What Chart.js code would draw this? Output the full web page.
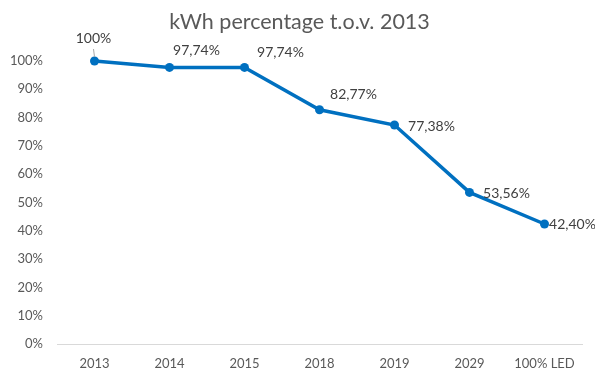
<!DOCTYPE html>
<html>
<head>
<meta charset="utf-8">
<script src="https://cdn.jsdelivr.net/npm/chart.js@4.4.4/dist/chart.umd.min.js"></script>
<style>
  html, body { margin: 0; padding: 0; background: #fff; }
  #wrap { width: 595px; height: 370px; }
</style>
</head>
<body>
<div id="wrap"><canvas id="chart"></canvas></div>
<script>
// ─── Data ────────────────────────────────────────────────────────────────────
const categories = ['2013', '2014', '2015', '2018', '2019', '2029', '100% LED'];
const kwhPercent = [100, 97.74, 97.74, 82.77, 77.38, 53.56, 42.40];
const yTicks     = [0, 10, 20, 30, 40, 50, 60, 70, 80, 90, 100];
const chartTitle = 'kWh percentage t.o.v. 2013';

// label offsets from each point, in px
const labelOffsets = [[-1, -23], [27, -17], [36, -15], [34, -15], [37, 1], [37, 1], [28, 0]];

const TEXT_GREY  = '#595959';
const LABEL_GREY = '#404040';
const LINE_BLUE  = '#0070C0';
const FONT       = "Lato, 'Open Sans', sans-serif";

Chart.defaults.font.family = FONT;
Chart.defaults.animation   = false;

const fmtPct = v => (Number.isInteger(v) ? String(v) : v.toFixed(2).replace('.', ',')) + '%';

// Title centred on the canvas (the built-in one centres on the padded box)
const centredTitle = {
  id: 'centredTitle',
  afterDraw(chart) {
    const ctx = chart.ctx;
    ctx.save();
    ctx.font = `21.5px ${FONT}`;
    ctx.fillStyle = TEXT_GREY;
    ctx.textAlign = 'center';
    ctx.textBaseline = 'middle';
    ctx.fillText(chartTitle, chart.width / 2 + 2, 22);
    ctx.restore();
  },
};

// Data labels drawn next to each point, with a leader line on the first one
const valueLabels = {
  id: 'valueLabels',
  afterDatasetsDraw(chart) {
    const ctx  = chart.ctx;
    const meta = chart.getDatasetMeta(0);
    const data = chart.data.datasets[0].data;
    ctx.save();
    ctx.font = `14px ${FONT}`;
    ctx.fillStyle = LABEL_GREY;
    ctx.textAlign = 'center';
    ctx.textBaseline = 'middle';
    meta.data.forEach((pt, i) => {
      const [dx, dy] = labelOffsets[i];
      ctx.fillText(fmtPct(data[i]), pt.x + dx, pt.y + dy);
    });
    // leader line for the first label
    const p0 = meta.data[0];
    ctx.beginPath();
    ctx.moveTo(p0.x - 1, p0.y - 12);
    ctx.lineTo(p0.x, p0.y - 4);
    ctx.strokeStyle = '#a6a6a6';
    ctx.lineWidth = 1;
    ctx.stroke();
    ctx.restore();
  },
};

new Chart(document.getElementById('chart'), {
  type: 'line',
  data: {
    labels: categories,
    datasets: [{
      label: 'kWh',
      data: kwhPercent,
      borderColor: LINE_BLUE,
      backgroundColor: LINE_BLUE,
      borderWidth: 3.5,
      pointRadius: 4.5,
      pointBorderWidth: 0,
      tension: 0,
      clip: false,
    }],
  },
  options: {
    responsive: true,
    maintainAspectRatio: false,
    layout: { padding: { left: 0, right: 13, top: 61, bottom: 0 } },
    scales: {
      x: {
        offset: true,
        grid: { display: false },
        border: { display: true, color: '#d9d9d9', width: 1 },
        ticks: { color: TEXT_GREY, font: { size: 13 }, padding: 4, maxRotation: 0, autoSkip: false },
        afterFit: s => { s.height = 26; },
      },
      y: {
        min: 0,
        max: 100,
        grid: { display: false, drawTicks: false },
        border: { display: false },
        afterBuildTicks: s => { s.ticks = yTicks.map(v => ({ value: v })); },
        ticks: { color: TEXT_GREY, font: { size: 13 }, padding: 14, callback: v => v + '%' },
        afterFit: s => { s.width = 57; },
      },
    },
    plugins: {
      legend: { display: false },
      tooltip: { enabled: false },
      title: { display: false },
    },
  },
  plugins: [valueLabels, centredTitle],
});
</script>
</body>
</html>
